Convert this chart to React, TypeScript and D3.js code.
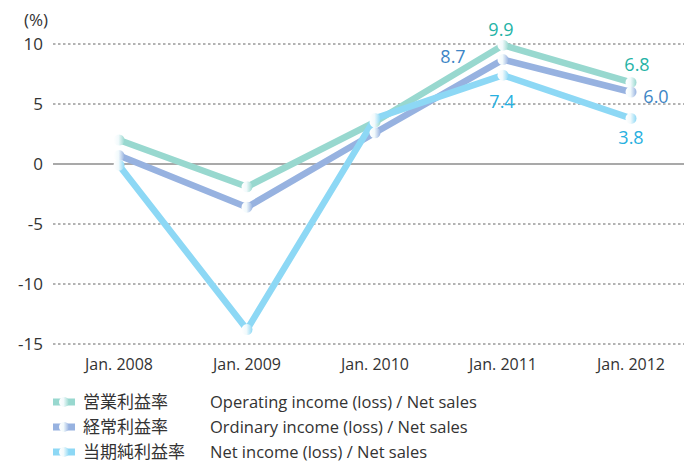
import React from "react";
import * as d3 from "d3";

const categories = ["Jan. 2008", "Jan. 2009", "Jan. 2010", "Jan. 2011", "Jan. 2012"];
const operating = [2.0, -1.9, 3.5, 9.9, 6.8];
const ordinary = [0.7, -3.6, 2.6, 8.7, 6.0];
const netIncome = [-0.1, -13.8, 3.8, 7.4, 3.8];
const yTicks = [10, 5, 0, -5, -10, -15];
const seriesNamesJa = ["営業利益率", "経常利益率", "当期純利益率"];
const seriesNamesEn = [
  "Operating income (loss) / Net sales",
  "Ordinary income (loss) / Net sales",
  "Net income (loss) / Net sales",
];

const W = 684;
const H = 462;
const FONT = "'Open Sans', 'Noto Sans', sans-serif";
const JFONT = "'Noto Sans CJK JP', sans-serif";

const series = [
  { values: operating, color: "#98d8cf", label: "#25b3a6", id: "g0" },
  { values: ordinary, color: "#97b2e0", label: "#3d86c6", id: "g1" },
  { values: netIncome, color: "#8dd8f5", label: "#28b0e0", id: "g2" },
];

// value labels: [seriesIndex, pointIndex, dx, dy]
const valueLabels: [number, number, number, number][] = [
  [0, 3, -2, -16],
  [1, 3, -50, -3],
  [2, 3, -1, 26],
  [0, 4, 6, -18],
  [1, 4, 25, 5],
  [2, 4, 0, 19],
];

export default function App() {
  const x = d3.scalePoint<string>().domain(categories).range([119, 631]);
  const y = d3.scaleLinear().domain([-15, 10]).range([344, 44]);
  const line = d3
    .line<number>()
    .x((_, i) => x(categories[i]) as number)
    .y((d) => y(d));

  return (
    <svg width={W} height={H} style={{ position: "absolute", left: 0, top: 0 }}>
      <defs>
        {series.map((s) => (
          <linearGradient key={s.id} id={s.id} x1="0" x2="1" y1="0" y2="0">
            <stop offset="0%" stopColor="#ffffff" />
            <stop offset="45%" stopColor="#f2fafc" />
            <stop offset="100%" stopColor={s.color} />
          </linearGradient>
        ))}
      </defs>
      <rect width={W} height={H} fill="#fff" />
      {/* grid */}
      {yTicks.map((t) => (
        <g key={t}>
          <line
            x1={53}
            x2={684}
            y1={y(t)}
            y2={y(t)}
            stroke={t === 0 ? "#555" : "#666"}
            strokeWidth={t === 0 ? 1.2 : 1}
            strokeDasharray={t === 0 ? undefined : "2.5,2.5"}
          />
          <text
            x={43}
            y={y(t)}
            dy="0.36em"
            textAnchor="end"
            fontFamily={FONT}
            fontSize={17}
            fill="#333"
          >
            {t}
          </text>
        </g>
      ))}
      <text x={24} y={26} fontFamily={FONT} fontSize={17} fill="#333">
        (%)
      </text>
      {categories.map((c) => (
        <text
          key={c}
          x={x(c) as number}
          y={370}
          textAnchor="middle"
          fontFamily={FONT}
          fontSize={16}
          fill="#333"
        >
          {c}
        </text>
      ))}
      {/* lines */}
      {series.map((s) => (
        <path
          key={s.id}
          d={line(s.values) || ""}
          fill="none"
          stroke={s.color}
          strokeWidth={6.5}
          strokeLinejoin="round"
        />
      ))}
      {series.map((s) =>
        s.values.map((v, i) => (
          <circle
            key={s.id + i}
            cx={x(categories[i]) as number}
            cy={y(v)}
            r={5.5}
            fill={`url(#${s.id})`}
          />
        ))
      )}
      {valueLabels.map(([si, pi, dx, dy]) => (
        <text
          key={`${si}-${pi}`}
          x={(x(categories[pi]) as number) + dx}
          y={y(series[si].values[pi]) + dy}
          dy="0.36em"
          textAnchor="middle"
          fontFamily={FONT}
          fontSize={18}
          fill={series[si].label}
        >
          {series[si].values[pi].toFixed(1)}
        </text>
      ))}
      {/* legend */}
      {series.map((s, i) => {
        const ly = 402 + i * 25;
        return (
          <g key={s.id + "leg"}>
            <rect x={53} y={ly - 3.5} width={22} height={7} fill={s.color} />
            <circle cx={64} cy={ly} r={5} fill={`url(#${s.id})`} />
            <text x={83} y={ly} dy="0.36em" fontFamily={JFONT} fontSize={17} fill="#333">
              {seriesNamesJa[i]}
            </text>
            <text x={210} y={ly} dy="0.36em" fontFamily={FONT} fontSize={16.5} fill="#333">
              {seriesNamesEn[i]}
            </text>
          </g>
        );
      })}
    </svg>
  );
}
